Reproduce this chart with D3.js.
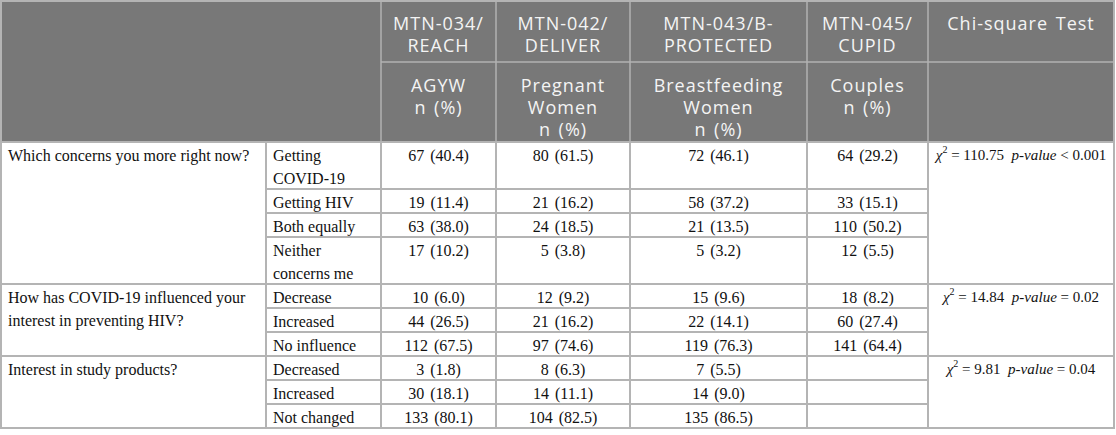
<!DOCTYPE html>
<html>
<head>
<meta charset="utf-8">
<script src="https://cdn.jsdelivr.net/npm/d3@7"></script>
<style>
  html, body { margin: 0; padding: 0; background: #fff; }
  svg { display: block; }
  .head { font-family: "Open Sans", "Noto Sans", sans-serif; font-size: 18px; fill: #f4f4f4; letter-spacing: 1px; word-spacing: 2px; }
  .cell { font-family: "Liberation Serif", "DejaVu Serif", serif; font-size: 16px; fill: #111; }
  .val  { word-spacing: 2px; }
  .chi  { font-family: "Liberation Serif", "DejaVu Serif", serif; font-size: 15px; fill: #111; }
</style>
</head>
<body>
<div id="table"></div>
<script>
'use strict';

// ---- data ----
const studies = [['MTN-034/', 'REACH'], ['MTN-042/', 'DELIVER'], ['MTN-043/B-', 'PROTECTED'], ['MTN-045/', 'CUPID']];
const populations = [['AGYW', 'n (%)'], ['Pregnant', 'Women', 'n (%)'], ['Breastfeeding', 'Women', 'n (%)'], ['Couples', 'n (%)']];
const testTitle = 'Chi-square Test';

const questions = [
  'Which concerns you more right now?',
  'How has COVID-19 influenced your interest in preventing HIV?',
  'Interest in study products?'
];
const answers = [
  ['Getting COVID-19', 'Getting HIV', 'Both equally', 'Neither concerns me'],
  ['Decrease', 'Increased', 'No influence'],
  ['Decreased', 'Increased', 'Not changed']
];

const reachN     = [67, 19, 63, 17, 10, 44, 112, 3, 30, 133];
const reachPct   = [40.4, 11.4, 38.0, 10.2, 6.0, 26.5, 67.5, 1.8, 18.1, 80.1];
const deliverN   = [80, 21, 24, 5, 12, 21, 97, 8, 14, 104];
const deliverPct = [61.5, 16.2, 18.5, 3.8, 9.2, 16.2, 74.6, 6.3, 11.1, 82.5];
const protectN   = [72, 58, 21, 5, 15, 22, 119, 7, 14, 135];
const protectPct = [46.1, 37.2, 13.5, 3.2, 9.6, 14.1, 76.3, 5.5, 9.0, 86.5];
const cupidN     = [64, 33, 110, 12, 18, 60, 141, null, null, null];
const cupidPct   = [29.2, 15.1, 50.2, 5.5, 8.2, 27.4, 64.4, null, null, null];

const chiValues = [110.75, 14.84, 9.81];
const pValues   = ['< 0.001', '= 0.02', '= 0.04'];

// ---- layout ----
const W = 1116, H = 435;
const colKeys = ['q', 'a', 's0', 's1', 's2', 's3', 'chi'];
const colWidths = [265, 115, 115, 134, 177, 121, 186];
const edges = [1].concat(Array.from(d3.cumsum(colWidths), d => d + 1));
const xLeft = d3.scaleOrdinal().domain(colKeys).range(edges.slice(0, -1));
const xWidth = d3.scaleOrdinal().domain(colKeys).range(colWidths);

const headTop = 1, headMid = 62, headBottom = 142;
const lineH = 23, rowH = 24, pad = 7;
const headBg = '#787878', headLine = '#b2b2b2', bodyLine = '#b4b4b4';

const svg = d3.select('#table').append('svg')
  .attr('width', W).attr('height', H)
  .attr('viewBox', [0, 0, W, H]);

const fmt = d3.format('.1f');
const cellText = (n, p) => n == null ? '' : `${n} (${fmt(p)})`;

// word wrap helper, returns the number of lines
function wrap(text, width) {
  let lines = 1;
  text.each(function() {
    const t = d3.select(this);
    const words = t.text().split(/\s+/);
    const x = t.attr('x');
    t.text(null);
    let tspan = t.append('tspan').attr('x', x).attr('dy', 0);
    let line = [];
    words.forEach(w => {
      line.push(w);
      tspan.text(line.join(' '));
      if (tspan.node().getComputedTextLength() > width && line.length > 1) {
        line.pop();
        tspan.text(line.join(' '));
        line = [w];
        tspan = t.append('tspan').attr('x', x).attr('dy', lineH).text(w);
        lines++;
      }
    });
  });
  return lines;
}

// ---- header ----
const head = svg.append('g');
head.append('rect')
  .attr('x', edges[0]).attr('y', headTop)
  .attr('width', edges[edges.length - 1] - edges[0]).attr('height', headBottom - headTop)
  .attr('fill', headBg);

function headCell(lines, key, top) {
  const cx = xLeft(key) + xWidth(key) / 2;
  head.append('text').attr('class', 'head')
    .attr('text-anchor', 'middle')
    .selectAll('tspan').data(lines).join('tspan')
    .attr('x', cx)
    .attr('y', (d, i) => top + i * 22)
    .text(d => d);
}
studies.forEach((s, i) => headCell(s, 's' + i, headTop + 29));
populations.forEach((p, i) => headCell(p, 's' + i, headMid + 30));
headCell([testTitle], 'chi', headTop + 29);

// header grid
const hl = head.append('g').attr('stroke', headLine).attr('stroke-width', 1.5);
hl.append('line').attr('x1', xLeft('s0')).attr('x2', edges[edges.length - 1])
  .attr('y1', headMid).attr('y2', headMid);
['s0', 's1', 's2', 's3', 'chi'].forEach(k => {
  hl.append('line').attr('x1', xLeft(k)).attr('x2', xLeft(k))
    .attr('y1', headTop).attr('y2', headBottom);
});

// ---- body ----
const body = svg.append('g');
const grid = svg.append('g').attr('stroke', bodyLine).attr('stroke-width', 2).attr('fill', 'none');

let y = headBottom;
let r = 0;
questions.forEach((q, gi) => {
  const groupTop = y;
  answers[gi].forEach((a, ai) => {
    const at = body.append('text').attr('class', 'cell')
      .attr('x', xLeft('a') + pad).attr('y', y + 19).text(a);
    const n = wrap(at, xWidth('a') - pad * 2);
    const h = rowH + (n - 1) * lineH;

    const vals = [[reachN, reachPct], [deliverN, deliverPct], [protectN, protectPct], [cupidN, cupidPct]];
    vals.forEach(([ns, ps], si) => {
      const k = 's' + si;
      body.append('text').attr('class', 'cell val')
        .attr('text-anchor', 'middle')
        .attr('x', xLeft(k) + xWidth(k) / 2).attr('y', y + 19)
        .text(cellText(ns[r], ps[r]));
    });

    y += h;
    r++;
    // row line across answer + value columns
    if (ai < answers[gi].length - 1) {
      grid.append('line').attr('x1', xLeft('a')).attr('x2', xLeft('chi'))
        .attr('y1', y).attr('y2', y);
    }
  });

  // question text
  const qt = body.append('text').attr('class', 'cell')
    .attr('x', xLeft('q') + pad).attr('y', groupTop + 19).text(q);
  wrap(qt, xWidth('q') - pad * 2);

  // chi-square text
  const ct = body.append('text').attr('class', 'chi')
    .attr('text-anchor', 'middle')
    .attr('x', xLeft('chi') + xWidth('chi') / 2).attr('y', groupTop + 18);
  ct.append('tspan').attr('font-style', 'italic').text('χ');
  ct.append('tspan').attr('font-size', '10px').attr('dy', -7).text('2');
  ct.append('tspan').attr('dy', 7).text(` = ${chiValues[gi]}\u00a0 `);
  ct.append('tspan').attr('font-style', 'italic').text('p-value');
  ct.append('tspan').text(` ${pValues[gi]}`);

  // group line full width
  grid.append('line').attr('x1', edges[0]).attr('x2', edges[edges.length - 1])
    .attr('y1', y).attr('y2', y);
});

// body verticals + outer
const bodyBottom = y;
colKeys.slice(1).forEach(k => {
  grid.append('line').attr('x1', xLeft(k)).attr('x2', xLeft(k))
    .attr('y1', headBottom).attr('y2', bodyBottom);
});
grid.append('rect')
  .attr('x', edges[0]).attr('y', headTop)
  .attr('width', edges[edges.length - 1] - edges[0]).attr('height', bodyBottom - headTop);
grid.append('line').attr('x1', edges[0]).attr('x2', edges[edges.length - 1])
  .attr('y1', headBottom).attr('y2', headBottom);
</script>
</body>
</html>
